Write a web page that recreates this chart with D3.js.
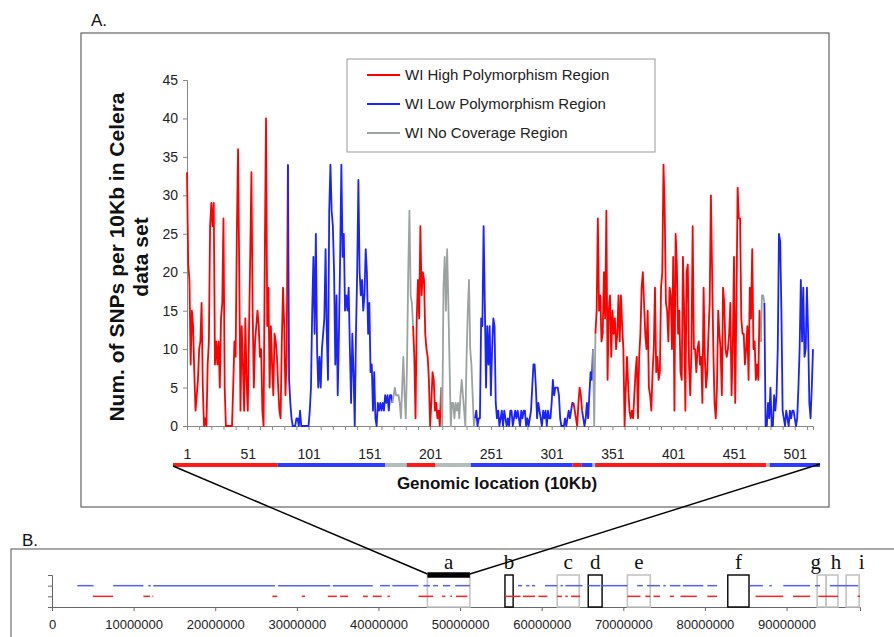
<!DOCTYPE html>
<html>
<head>
<meta charset="utf-8">
<script src="https://cdn.jsdelivr.net/npm/d3@7"></script>
<style>
  body { margin: 0; background: #fff; }
  svg { display: block; }
</style>
</head>
<body>
<svg id="fig" width="894" height="637"></svg>
<script>
// ===== Data =====
// SNPs per 10Kb window (window index 1..516)
const snpCounts = [
  33,21,19,8,15,13,7,2,4,6,     10,11,16,5,0,1,0,8,11,26,
  29,26,29,8,11,8,11,5,14,16,   27,5,0,0,0,0,0,0,5,11,
  9,25,36,20,2,13,8,2,14,6,     2,12,22,33,15,5,11,13,15,13,
  9,10,2,0,22,40,13,18,5,13,    8,4,12,11,9,5,2,1,11,18,
  13,4,9,34,6,3,1,0,0,0,        1,1,0,2,0,0,0,0,0,0,
  0,2,5,15,22,12,25,10,5,9,     5,10,12,14,23,12,6,28,34,28,
  26,20,8,17,4,12,22,34,22,25,  15,17,15,18,10,3,12,7,0,12,
  20,32,20,17,19,15,17,23,20,12, 16,7,8,2,7,1,0,3,2,3,
  2,3,2,4,3,4,2,4,4,3,          4,5,4,4,4,3,1,5,9,4,
  1,8,20,28,17,16,13,9,1,14,    19,14,26,17,20,19,12,10,9,6,
  0,3,7,6,2,3,1,2,0,5,          0,18,22,15,23,16,8,0,3,3,
  1,3,2,3,1,4,6,4,2,0,          9,15,19,10,8,4,0,1,2,0,
  1,1,14,13,26,16,5,13,8,13,    4,10,14,13,3,1,2,0,1,2,
  0,2,1,0,1,0,2,2,0,1,          2,1,2,1,0,2,1,2,2,0,
  1,0,1,2,5,8,8,5,1,3,          2,1,0,2,1,2,0,2,1,1,
  3,6,4,5,5,5,4,1,0,0,          0,1,0,1,2,1,2,3,3,2,
  1,0,3,5,4,2,1,0,1,3,          1,4,7,6,10,0,12,15,27,15,
  17,11,12,20,14,28,6,15,17,9,  15,12,14,10,12,17,11,17,13,10,
  0,5,9,5,2,1,2,1,4,7,          9,1,9,12,18,20,16,12,10,15,
  5,4,2,7,10,18,7,9,6,7,        18,20,34,28,16,15,11,18,17,10,
  22,2,25,21,12,15,7,6,22,15,   2,20,21,8,4,10,26,10,10,7,
  10,11,8,9,3,18,9,5,7,12,      16,30,20,10,3,1,5,15,12,10,
  4,18,16,10,9,10,12,16,4,10,   22,3,16,31,27,27,14,12,12,8,
  10,13,6,18,14,23,10,11,6,8,   6,15,11,17,17,16,0,0,3,1,
  5,0,0,4,2,4,10,25,24,15,      2,1,0,2,1,0,2,1,2,2,
  1,0,1,5,10,19,11,18,9,10,     18,12,3,1,5,10
];

// WI region classes along the windows (first window of each region)
const regionStarts = [1, 85, 171, 188, 211, 239, 320, 327, 336, 338, 474, 477];
const regionTypes  = ['high','low','none','high','none','low','high','low','none','high','none','low'];

const legendLabels = {
  high: 'WI High Polymorphism Region',
  low:  'WI Low Polymorphism Region',
  none: 'WI No Coverage Region'
};

const yTicksA = [0, 5, 10, 15, 20, 25, 30, 35, 40, 45];

// Panel B: chromosome-wide WI segments (Mb)
const lowSegments = [
  [3.1,5.1],[7.5,11.2],[11.8,12.1],[12.4,27.3],[27.7,34.1],[34.4,39.3],[40.2,41.4],
  [41.7,44.9],[45.5,46.3],[46.7,47.3],[47.9,48.8],[49.4,51.2],[57.1,57.6],[58.1,58.5],
  [58.8,59.2],[60.4,61.9],[62.3,62.6],[62.9,65.0],[65.6,67.2],[67.4,70.5],[71.7,72.4],
  [72.9,74.5],[74.9,75.2],[75.7,77.0],[77.3,79.8],[80.3,81.5],[85.5,87.1],[87.9,88.2],
  [89.6,92.9],[93.5,94.1],[95.3,98.8]
];
const highSegments = [
  [5.0,7.5],[11.2,12.0],[12.3,12.4],[27.0,27.6],[30.6,31.0],[33.8,34.9],[35.3,36.3],
  [38.1,38.7],[39.3,40.4],[41.1,41.4],[44.9,46.7],[47.8,48.2],[48.8,49.0],[49.5,50.9],
  [55.5,57.4],[57.7,59.2],[59.6,60.7],[61.9,62.5],[62.9,63.2],[63.6,64.7],[70.5,72.1],
  [72.7,73.3],[73.7,74.5],[75.7,76.2],[77.0,79.0],[80.3,81.5],[86.2,89.6],[90.8,92.9],
  [93.9,96.3],[98.7,99.0]
];

// Candidate regions a..i (Mb); black = highlighted box
const boxLabels = ['a','b','c','d','e','f','g','h','i'];
const boxStarts = [46.0, 55.5, 61.9, 65.7, 70.5, 82.8, 93.75, 94.85, 97.3];
const boxEnds   = [51.2, 56.5, 64.6, 67.4, 73.3, 85.4, 94.85, 96.3, 98.9];
const boxBlack  = [true, true, false, true, false, true, false, false, false];

const xTicksB = d3.range(0, 90000001, 10000000);

// ===== Setup =====
const svg = d3.select('#fig');
const sans = "'Liberation Sans', Arial, sans-serif";
const colors = { high: '#ff0000', low: '#1a22ff', none: '#9ba3a1' };
const barColors = { high: '#ff1a1a', low: '#2a3cff', none: '#b3bcbb' };
const N = snpCounts.length;
const points = snpCounts.map((v, i) => ({ i: i + 1, v }));

const regions = regionStarts.map((s, k) => ({
  start: s,
  end: k < regionStarts.length - 1 ? regionStarts[k + 1] - 1 : N,
  type: regionTypes[k]
}));

// ===== Panel A =====
svg.append('rect')
  .attr('x', 81).attr('y', 33).attr('width', 748).attr('height', 474)
  .attr('fill', '#fff').attr('stroke', '#444').attr('stroke-width', 1);

svg.append('text')
  .attr('x', 91).attr('y', 26)
  .text('A.')
  .style('font-family', sans).style('font-size', '17px').style('fill', '#111');

const x = d3.scaleLinear().domain([1, N]).range([187, 813]);
const y = d3.scaleLinear().domain([0, 45]).range([426, 80]);

// y axis
const gy = svg.append('g')
  .attr('transform', 'translate(187,0)')
  .call(d3.axisLeft(y).tickValues(yTicksA).tickSize(4).tickPadding(5));
gy.selectAll('text').style('font-family', sans).style('font-size', '14px').style('fill', '#222');

// x axis
const gx = svg.append('g')
  .attr('transform', 'translate(0,426)')
  .call(d3.axisBottom(x)
    .tickValues(d3.range(1, N + 1, 10))
    .tickFormat(d => (d - 1) % 50 === 0 ? d : '')
    .tickSize(4).tickPadding(19));
gx.selectAll('text').style('font-family', sans).style('font-size', '14px').style('fill', '#222');

[gx, gy].forEach(g => {
  g.select('.domain').attr('stroke', '#888');
  g.selectAll('.tick line').attr('stroke', '#888');
});

// series lines, one path per region, joined to the previous window
const line = d3.line().x(d => x(d.i)).y(d => y(d.v));
regions.forEach(r => {
  const seg = points.slice(Math.max(0, r.start - 2), r.end);
  svg.append('path')
    .datum(seg)
    .attr('d', line)
    .attr('fill', 'none')
    .attr('stroke', colors[r.type])
    .attr('stroke-width', 1.8)
    .attr('stroke-linejoin', 'round');
});

// legend
const legend = svg.append('g').attr('transform', 'translate(347,59)');
legend.append('rect')
  .attr('width', 308).attr('height', 93)
  .attr('fill', '#fff').attr('stroke', '#999');
['high', 'low', 'none'].forEach((t, k) => {
  const ly = 16 + k * 29;
  legend.append('line')
    .attr('x1', 20).attr('x2', 53).attr('y1', ly).attr('y2', ly)
    .attr('stroke', colors[t]).attr('stroke-width', 1.8);
  legend.append('text')
    .attr('x', 58).attr('y', ly + 5)
    .text(legendLabels[t])
    .style('font-family', sans).style('font-size', '15px').style('fill', '#222');
});

// y-axis title
const yTitle = svg.append('text')
  .attr('transform', 'translate(124,257) rotate(-90)')
  .style('font-family', sans).style('font-size', '21px').style('font-weight', 'bold')
  .style('text-anchor', 'middle').style('fill', '#111');
yTitle.append('tspan').attr('x', 0).attr('y', 0).text('Num. of SNPs per 10Kb in Celera');
yTitle.append('tspan').attr('x', 0).attr('y', 24).text('data set');

// colour-coded region bar under the axis
const xBar = d3.scaleLinear().domain([1, N]).range([173, 820]);
const barY = 465;
regions.forEach(r => {
  svg.append('line')
    .attr('x1', xBar(Math.max(1, r.start - 1))).attr('x2', xBar(r.end))
    .attr('y1', barY).attr('y2', barY)
    .attr('stroke', barColors[r.type]).attr('stroke-width', 4);
});

svg.append('text')
  .attr('x', 497).attr('y', 489)
  .text('Genomic location (10Kb)')
  .style('font-family', sans).style('font-size', '17px').style('font-weight', 'bold')
  .style('text-anchor', 'middle').style('fill', '#111');

// ===== Panel B =====
svg.append('rect')
  .attr('x', 11).attr('y', 549).attr('width', 900).attr('height', 120)
  .attr('fill', '#fff').attr('stroke', '#555').attr('stroke-width', 1);

svg.append('text')
  .attr('x', 22).attr('y', 546)
  .text('B.')
  .style('font-family', sans).style('font-size', '17px').style('fill', '#111');

const xB = d3.scaleLinear().domain([0, 99000000]).range([52, 860]);
const yB = d3.scaleLinear().domain([0, 3]).range([607, 575]);

const gxB = svg.append('g')
  .attr('transform', 'translate(0,607)')
  .call(d3.axisBottom(xB).tickValues(xTicksB).tickFormat(d3.format('d')).tickSize(4).tickPadding(9));
gxB.selectAll('text').style('font-family', sans).style('font-size', '13px').style('fill', '#222');
const gyB = svg.append('g')
  .attr('transform', 'translate(52,0)')
  .call(d3.axisLeft(yB).tickValues([0, 1, 2, 3]).tickFormat('').tickSize(4));
[gxB, gyB].forEach(g => {
  g.select('.domain').attr('stroke', '#666');
  g.selectAll('.tick line').attr('stroke', '#666');
});

// candidate region boxes
boxLabels.forEach((lab, k) => {
  const x0 = xB(boxStarts[k] * 1e6), x1 = xB(boxEnds[k] * 1e6);
  svg.append('rect')
    .attr('x', x0).attr('y', yB(3))
    .attr('width', x1 - x0).attr('height', yB(0) - yB(3))
    .attr('fill', 'none')
    .attr('stroke', boxBlack[k] && k > 0 ? '#000' : '#c4c4c4')
    .attr('stroke-width', boxBlack[k] && k > 0 ? 1.4 : 1.6);
});

// WI segments
[[lowSegments, 2, '#5060f0'], [highSegments, 1, '#ff2020']].forEach(([segs, lv, col]) => {
  svg.append('g').selectAll('line')
    .data(segs).join('line')
    .attr('x1', d => xB(d[0] * 1e6)).attr('x2', d => xB(d[1] * 1e6))
    .attr('y1', yB(lv)).attr('y2', yB(lv))
    .attr('stroke', col).attr('stroke-width', 1.5);
});

// thick bar marking region a (the zoomed window)
svg.append('line')
  .attr('x1', xB(boxStarts[0] * 1e6)).attr('x2', xB(boxEnds[0] * 1e6))
  .attr('y1', yB(3)).attr('y2', yB(3))
  .attr('stroke', '#000').attr('stroke-width', 5.5);

// box letters
const labelShift = [0, 0, 0, 0, 0, 0, -6, 4, 9];
boxLabels.forEach((lab, k) => {
  const cx = (xB(boxStarts[k] * 1e6) + xB(boxEnds[k] * 1e6)) / 2 + labelShift[k];
  svg.append('text')
    .attr('x', cx).attr('y', 569)
    .text(lab)
    .style('font-family', "'Liberation Serif', 'Times New Roman', serif")
    .style('font-size', '21px').style('text-anchor', 'middle').style('fill', '#111');
});

// zoom connector lines from panel A bar to region a
svg.append('line')
  .attr('x1', xBar(1)).attr('y1', barY + 1)
  .attr('x2', xB(boxStarts[0] * 1e6)).attr('y2', yB(3) - 1)
  .attr('stroke', '#000').attr('stroke-width', 1.4);
svg.append('line')
  .attr('x1', xBar(N)).attr('y1', barY - 1)
  .attr('x2', xB(boxEnds[0] * 1e6)).attr('y2', yB(3) - 1)
  .attr('stroke', '#000').attr('stroke-width', 1.4);
</script>
</body>
</html>
